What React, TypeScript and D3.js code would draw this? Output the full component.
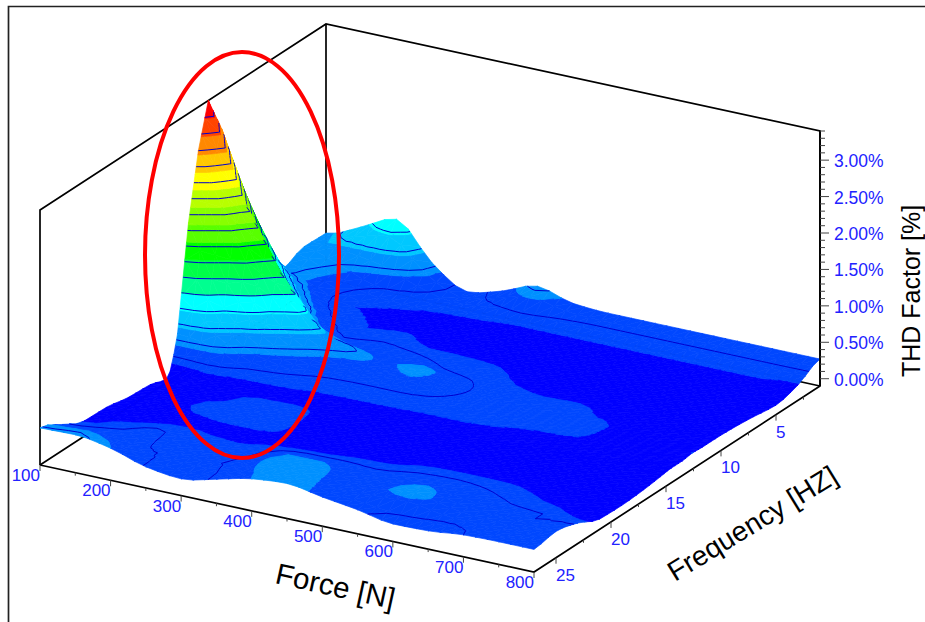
import * as d3 from "d3";
import { useEffect, useRef } from "react";

// grid of the surface
const forces = [100, 150, 200, 250, 300, 350, 400, 450, 500, 550, 600, 650, 700, 750, 800];
const freqs = [1, 3, 5, 7, 9, 10.5, 11.7, 12.6, 13.5, 14.5, 15.5, 17, 19, 21, 23, 25, 27];

// THD [%] per frequency row, one value per force
const thd1 = [0.53, 0.72, 0.93, 0.44, 0.145, 0.26, 0.43, 0.3, 0.27, 0.27, 0.27, 0.27, 0.27, 0.27, 0.27];
const thd3 = [0.54, 0.4, 0.22, 0.16, 0.13, 0.13, 0.125, 0.125, 0.125, 0.125, 0.125, 0.125, 0.125, 0.125, 0.11];
const thd5 = [0.42, 0.28, 0.12, 0.11, 0.1, 0.1, 0.09, 0.09, 0.09, 0.09, 0.09, 0.09, 0.09, 0.09, 0.03];
const thd7 = [1.1, 0.5, 0.2, 0.12, 0.13, 0.1, 0.1, 0.1, 0.09, 0.09, 0.09, 0.09, 0.09, 0.09, 0.07];
const thd9 = [2.1, 1.05, 0.42, 0.2, 0.22, 0.2, 0.18, 0.15, 0.11, 0.1, 0.1, 0.1, 0.09, 0.09, 0.1];
const thd10 = [2.9, 1.6, 0.8, 0.35, 0.28, 0.25, 0.22, 0.2, 0.14, 0.125, 0.125, 0.11, 0.09, 0.08, 0.11];
const thd11 = [3.4, 2.15, 1.3, 0.65, 0.43, 0.32, 0.38, 0.25, 0.15, 0.13, 0.125, 0.125, 0.1, 0.09, 0.11];
const thd12 = [2.8, 1.74, 0.8, 0.42, 0.28, 0.27, 0.345, 0.22, 0.15, 0.135, 0.13, 0.125, 0.1, 0.09, 0.12];
const thd13 = [1.9, 0.84, 0.42, 0.27, 0.21, 0.2, 0.2, 0.17, 0.14, 0.13, 0.125, 0.12, 0.1, 0.09, 0.1];
const thd14 = [0.47, 0.4, 0.2, 0.17, 0.13, 0.125, 0.125, 0.12, 0.12, 0.115, 0.1, 0.1, 0.1, 0.1, 0.1];
const thd15 = [-0.05, 0.08, 0.09, 0.09, 0.1, 0.1, 0.09, 0.09, 0.09, 0.09, 0.09, 0.09, 0.09, 0.09, 0.08];
const thd17 = [0.02, 0.09, 0.1, 0.125, 0.125, 0.11, 0.09, 0.09, 0.09, 0.09, 0.09, 0.09, 0.09, 0.08, 0.05];
const thd19 = [0.04, 0.08, 0.125, 0.13, 0.13, 0.11, 0.09, 0.09, 0.09, 0.09, 0.09, 0.09, 0.09, 0.07, 0.03];
const thd21 = [0.1, 0.09, 0.1, 0.11, 0.11, 0.11, 0.115, 0.125, 0.13, 0.17, 0.18, 0.17, 0.13, 0.1, 0.04];
const thd23 = [0.11, 0.15, 0.21, 0.16, 0.14, 0.2, 0.3, 0.3, 0.25, 0.28, 0.3, 0.25, 0.21, 0.2, 0.18];
const thd25 = [0.26, 0.28, 0.22, 0.19, 0.19, 0.22, 0.385, 0.39, 0.27, 0.32, 0.38, 0.27, 0.22, 0.2, 0.26];
const thd27 = [0.41, 0.42, 0.34, 0.19, 0.13, 0.23, 0.34, 0.38, 0.3, 0.23, 0.14, 0.15, 0.2, 0.21, 0.21];
const thdRows = [thd1, thd3, thd5, thd7, thd9, thd10, thd11, thd12, thd13, thd14, thd15, thd17, thd19, thd21, thd23, thd25, thd27];

// fill bands, low to high
const bandColors = [
  "#0000ff", "#0047ff", "#0090ff", "#00c8ff", "#00ffff", "#00ff90", "#00ff48", "#00ff00",
  "#58ff00", "#88ff00", "#b8ff00", "#ffff00", "#ffc800", "#ff8800", "#ff4400", "#ff0000",
];
const bandStep = 0.219;
const contourLevels = d3.range(1, 17).map((d) => d * 0.2);

const forceTicks = [100, 150, 200, 250, 300, 350, 400, 450, 500, 550, 600, 650, 700, 750, 800];
const freqTicks = [2.5, 5, 7.5, 10, 12.5, 15, 17.5, 20, 22.5, 25];
const thdTicks = d3.range(0, 35).map((d) => d / 10);

const width = 925;
const height = 622;
const sub = 3; // fill cells per grid cell

// box corners on the page, projection is affine
const origin = { x: 40, y: 465 };
const forceVec = { x: 494, y: 107 };
const freqVec = { x: 286, y: -186 };
const boxHeight = 255;

const u = d3.scaleLinear().domain([100, 800]).range([0, 1]);
const v = d3.scaleLinear().domain([27, 1]).range([0, 1]);
const w = d3.scaleLinear().domain([-0.1, 3.4]).range([0, boxHeight]);

type P = [number, number, number];

const project = (f: number, h: number, z: number): [number, number] => [
  origin.x + u(f) * forceVec.x + v(h) * freqVec.x,
  origin.y + u(f) * forceVec.y + v(h) * freqVec.y - w(z),
];

const clip = (poly: P[], level: number, keepAbove: boolean): P[] => {
  const out: P[] = [];
  poly.forEach((a, i) => {
    const b = poly[(i + 1) % poly.length];
    const ina = keepAbove ? a[2] >= level : a[2] <= level;
    const inb = keepAbove ? b[2] >= level : b[2] <= level;
    if (ina) out.push(a);
    if (ina !== inb) {
      const t = (level - a[2]) / (b[2] - a[2]);
      out.push([a[0] + (b[0] - a[0]) * t, a[1] + (b[1] - a[1]) * t, level]);
    }
  });
  return out;
};

const crossing = (tri: P[], level: number): P[] => {
  const out: P[] = [];
  tri.forEach((a, i) => {
    const b = tri[(i + 1) % 3];
    if (a[2] >= level !== b[2] >= level) {
      const t = (level - a[2]) / (b[2] - a[2]);
      out.push([a[0] + (b[0] - a[0]) * t, a[1] + (b[1] - a[1]) * t, level]);
    }
  });
  return out;
};

// monotone slopes for the soft fill, the steep peak stays straight
const slopes = (xs: number[], ys: number[]) =>
  xs.map((_, i) => {
    if (i === 0 || i === xs.length - 1) return 0;
    const a = (ys[i] - ys[i - 1]) / (xs[i] - xs[i - 1]);
    const b = (ys[i + 1] - ys[i]) / (xs[i + 1] - xs[i]);
    return a * b <= 0 ? 0 : (2 * a * b) / (a + b);
  });

const refine = (xs: number[], ys: number[]) => {
  const m = slopes(xs, ys);
  const out: number[] = [];
  for (let i = 0; i < xs.length - 1; i++) {
    const dx = xs[i + 1] - xs[i];
    for (let s = 0; s < sub; s++) {
      const t = s / sub;
      if (Math.max(ys[i], ys[i + 1]) > 1) {
        out.push(ys[i] + (ys[i + 1] - ys[i]) * t);
      } else {
        const h00 = (1 + 2 * t) * (1 - t) * (1 - t);
        const h10 = t * (1 - t) * (1 - t);
        const h01 = t * t * (3 - 2 * t);
        const h11 = t * t * (t - 1);
        out.push(h00 * ys[i] + h10 * dx * m[i] + h01 * ys[i + 1] + h11 * dx * m[i + 1]);
      }
    }
  }
  out.push(ys[ys.length - 1]);
  return out;
};

const subdivide = (xs: number[]) => {
  const out: number[] = [];
  for (let i = 0; i < xs.length - 1; i++) {
    for (let s = 0; s < sub; s++) out.push(xs[i] + ((xs[i + 1] - xs[i]) * s) / sub);
  }
  out.push(xs[xs.length - 1]);
  return out;
};

export default function App() {
  const ref = useRef<SVGSVGElement>(null);

  useEffect(() => {
    const svg = d3.select(ref.current);
    svg.selectAll("*").remove();

    const line = d3.line<[number, number]>();
    const black = "#000";

    // back walls
    const c = (f: number, h: number, z: number) => project(f, h, z);
    const backPaths = [
      [c(100, 27, -0.1), c(100, 27, 3.4), c(100, 1, 3.4), c(800, 1, 3.4), c(800, 1, -0.1)],
      [c(100, 1, 3.4), c(100, 1, -0.1)],
      [c(100, 27, -0.1), c(100, 1, -0.1), c(800, 1, -0.1)],
    ];
    svg
      .append("g")
      .selectAll("path")
      .data(backPaths)
      .join("path")
      .attr("d", (d) => line(d))
      .attr("fill", "none")
      .attr("stroke", black)
      .attr("stroke-width", 1.7);

    // soft version of the grid for the fills
    const fineForces = subdivide(forces);
    const fineFreqs = subdivide(freqs);
    const byForce = thdRows.map((row) => refine(forces, row));
    const fineCols = fineForces.map((_, i) => refine(freqs, byForce.map((r) => r[i])));

    // surface, far rows first
    const surface = svg.append("g");
    const bandTop = (k: number) => -0.1 + (k + 1) * bandStep;

    const drawFill = (tri: P[]) => {
      bandColors.forEach((color, k) => {
        let poly = tri;
        if (k > 0) poly = clip(poly, bandTop(k - 1), true);
        if (poly.length && k < bandColors.length - 1) poly = clip(poly, bandTop(k), false);
        if (poly.length < 3) return;
        const pts = poly.map((p) => project(p[0], p[1], p[2]));
        surface
          .append("path")
          .attr("d", line(pts) + "Z")
          .attr("fill", color)
          .attr("stroke", color)
          .attr("stroke-width", 0.7)
          .attr("stroke-linejoin", "round");
      });
    };

    const drawContour = (tri: P[]) => {
      contourLevels.forEach((level) => {
        const seg = crossing(tri, level);
        if (seg.length === 2) {
          surface
            .append("path")
            .attr("d", line(seg.map((p) => project(p[0], p[1], p[2]))))
            .attr("fill", "none")
            .attr("stroke", "#0000d0")
            .attr("stroke-width", 1);
        }
      });
    };

    const rowTris = (j: number) => {
      const tris: P[][] = [];
      for (let i = 0; i < fineForces.length - 1; i++) {
        const a: P = [fineForces[i], fineFreqs[j], fineCols[i][j]];
        const b: P = [fineForces[i + 1], fineFreqs[j], fineCols[i + 1][j]];
        const d: P = [fineForces[i], fineFreqs[j + 1], fineCols[i][j + 1]];
        const e: P = [fineForces[i + 1], fineFreqs[j + 1], fineCols[i + 1][j + 1]];
        tris.push([a, b, d], [b, e, d]);
      }
      return tris;
    };

    // lines of a row go on after the next row's fill, else its edge stroke eats them
    let previous: P[][] = [];
    for (let j = 0; j < fineFreqs.length - 1; j++) {
      const tris = rowTris(j);
      tris.forEach(drawFill);
      previous.forEach(drawContour);
      previous = tris;
    }
    previous.forEach(drawContour);

    // front axes
    svg
      .append("path")
      .attr("d", line([c(100, 27, -0.1), c(800, 27, -0.1), c(800, 1, -0.1), c(800, 1, 3.4)]))
      .attr("fill", "none")
      .attr("stroke", black)
      .attr("stroke-width", 1.7);

    const tickColor = "#444";
    const labelColor = "#2222ff";
    const font = "'Liberation Sans', Arial, sans-serif";

    forceTicks.forEach((t, idx) => {
      const [x, y] = project(t, 27, -0.1);
      const major = idx % 2 === 0;
      svg
        .append("line")
        .attr("x1", x)
        .attr("x2", x)
        .attr("y1", y)
        .attr("y2", y + (major ? 6 : 3))
        .attr("stroke", tickColor);
      if (major) {
        svg
          .append("text")
          .attr("x", x)
          .attr("y", y + 16)
          .attr("text-anchor", "end")
          .attr("font-family", font)
          .attr("font-size", 17)
          .attr("fill", labelColor)
          .text(t);
      }
    });

    freqTicks.forEach((t, idx) => {
      const [x, y] = project(800, t, -0.1);
      const major = idx % 2 === 1;
      svg
        .append("line")
        .attr("x1", x)
        .attr("x2", x)
        .attr("y1", y)
        .attr("y2", y + (major ? 6 : 3))
        .attr("stroke", tickColor);
      if (major) {
        svg
          .append("text")
          .attr("x", x)
          .attr("y", y + 23)
          .attr("font-family", font)
          .attr("font-size", 17)
          .attr("fill", labelColor)
          .text(t);
      }
    });

    thdTicks.forEach((t, idx) => {
      const [x, y] = project(800, 1, t);
      const major = idx % 5 === 0;
      svg
        .append("line")
        .attr("x1", x)
        .attr("x2", x + (major ? 9 : 5))
        .attr("y1", y)
        .attr("y2", y)
        .attr("stroke", tickColor);
      if (major) {
        svg
          .append("text")
          .attr("x", x + 14)
          .attr("y", y + 7)
          .attr("font-family", font)
          .attr("font-size", 17.5)
          .attr("fill", labelColor)
          .text(`${t.toFixed(2)}%`);
      }
    });

    // axis titles
    const title = (txt: string, x: number, y: number, angle: number, size: number) =>
      svg
        .append("text")
        .attr("transform", `translate(${x},${y}) rotate(${angle})`)
        .attr("font-family", font)
        .attr("font-size", size)
        .attr("fill", "#000")
        .text(txt);
    title("Force [N]", 274, 583, 12.4, 29.5);
    title("Frequency [HZ]", 675, 582, -31.5, 28);
    title("THD Factor [%]", 919.5, 377, -90, 25);

    // annotation and outer frame
    svg
      .append("ellipse")
      .attr("cx", 242)
      .attr("cy", 255)
      .attr("rx", 97)
      .attr("ry", 203)
      .attr("fill", "none")
      .attr("stroke", "#ff0000")
      .attr("stroke-width", 4);
    svg
      .append("path")
      .attr("d", `M${width},6.5H8.5V${height}`)
      .attr("fill", "none")
      .attr("stroke", "#222")
      .attr("stroke-width", 1.7);
  }, []);

  return <svg ref={ref} width={width} height={height} style={{ position: "absolute", left: 0, top: 0 }} />;
}
